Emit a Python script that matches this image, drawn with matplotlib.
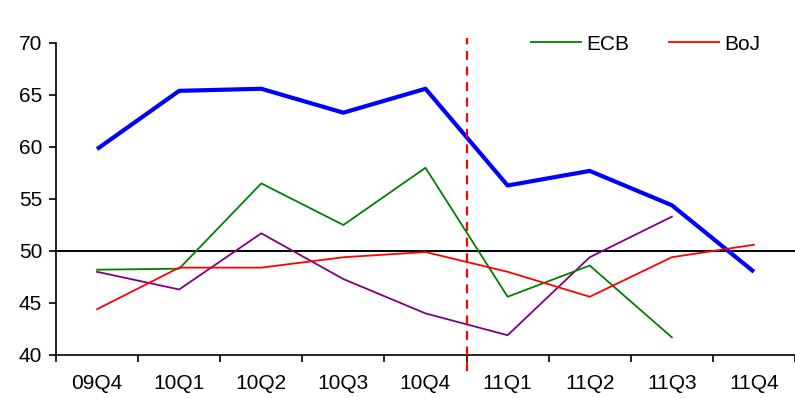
import matplotlib
matplotlib.use("Agg")
import matplotlib.pyplot as plt
import numpy as np

plt.rcParams['font.family'] = ['Liberation Sans', 'DejaVu Sans']

quarters = ["09Q4", "10Q1", "10Q2", "10Q3", "10Q4", "11Q1", "11Q2", "11Q3", "11Q4"]
blue_vals = [59.8, 65.4, 65.6, 63.3, 65.6, 56.3, 57.7, 54.4, 48.0]
ecb_vals = [48.2, 48.3, 56.5, 52.5, 58.0, 45.6, 48.6, 41.7]
boj_vals = [44.4, 48.4, 48.4, 49.4, 49.9, 48.0, 45.6, 49.4, 50.6]
purple_vals = [48.0, 46.3, 51.7, 47.3, 44.0, 41.9, 49.4, 53.3]
yticks = [40, 45, 50, 55, 60, 65, 70]

W, H = 795, 398
fig = plt.figure(figsize=(W / 100, H / 100), dpi=100)
ax = fig.add_axes([56 / W, 1 - 355 / H, (795 - 56) / W, (355 - 43) / H])

x = np.arange(len(quarters))
ax.plot(x, blue_vals, color='#0000FF', lw=3.0, solid_capstyle='butt')
ax.plot(x[:len(purple_vals)], purple_vals, color='#800080', lw=1.3)
ax.plot(x[:len(ecb_vals)], ecb_vals, color='#008000', lw=1.3, label='ECB')
ax.plot(x, boj_vals, color='#FF0000', lw=1.3, label='BoJ')

ax.axhline(50, color='black', lw=1.4, zorder=1)
ax.axvline(4.5, ymin=-0.05, ymax=1.015, color='#FF0000', lw=1.6,
           ls=(0, (4, 3)), clip_on=False, zorder=5)

ax.set_xlim(-0.5, len(quarters) - 0.5)
ax.set_ylim(40, 70)
ax.set_yticks(yticks)
ax.set_xticks(np.arange(-0.5, len(quarters), 1.0))
ax.set_xticklabels([])
ax.set_xticks(x, minor=True)
ax.set_xticklabels(quarters, minor=True)
ax.tick_params(axis='x', which='major', direction='out', length=5, width=1.2)
ax.tick_params(axis='x', which='minor', length=0, pad=14, labelsize=15)
ax.tick_params(axis='y', direction='out', length=5, width=1.2, labelsize=15, pad=5)

for s in ['top', 'right']:
    ax.spines[s].set_visible(False)
for s in ['left', 'bottom']:
    ax.spines[s].set_linewidth(1.2)

fig.legend(loc='upper left', bbox_to_anchor=(512 / W, 1 - 16 / H), ncol=2,
           frameon=False, fontsize=15, handlelength=2.4, columnspacing=1.9,
           handletextpad=0.25, borderpad=0.4)

fig.savefig("out.png", dpi=100)
